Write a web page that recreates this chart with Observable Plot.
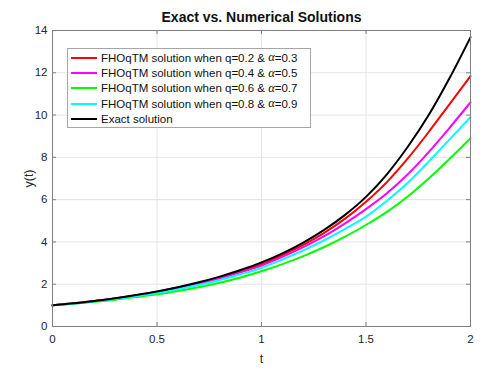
<!DOCTYPE html>
<html>
<head>
<meta charset="utf-8">
<script src="https://cdn.jsdelivr.net/npm/d3@7"></script>
<script src="https://cdn.jsdelivr.net/npm/@observablehq/plot@0.6"></script>
<style>
  html, body { margin: 0; padding: 0; background: white; }
  #wrap { position: relative; width: 490px; height: 371px; font-family: "Liberation Sans", Arial, sans-serif; }
  #legend { position: absolute; left: 67px; top: 48px; width: 242px; height: 77px; border: 1px solid #a6a6a6; background: white; box-sizing: content-box; padding-top: 1px; }
  .row { display: flex; align-items: center; height: 15.4px; font-size: 11.5px; color: #111; white-space: pre; }
  .row span { white-space: pre; }
  .sw { display: inline-block; width: 26px; height: 2px; margin-left: 3px; margin-right: 4px; }
  .al { font-family: "Liberation Serif", "DejaVu Serif", serif; font-style: italic; font-size: 12.5px; }
  svg g[aria-label="x-axis label"] text, svg g[aria-label="y-axis label"] text { font-size: 12.5px; }
</style>
</head>
<body>
<div id="wrap"></div>
<script>
const t = [0,0.1,0.2,0.3,0.4,0.5,0.6,0.7,0.8,0.9,1.0,1.1,1.2,1.3,1.4,1.5,1.6,1.7,1.8,1.9,2.0];
const q02 = [1.00,1.10,1.21,1.33,1.48,1.64,1.84,2.06,2.32,2.62,2.95,3.38,3.86,4.43,5.10,5.90,6.83,7.95,9.20,10.52,11.84];
const q04 = [1.00,1.09,1.20,1.32,1.46,1.62,1.81,2.02,2.27,2.56,2.88,3.29,3.75,4.27,4.88,5.55,6.30,7.20,8.25,9.40,10.60];
const q06 = [1.00,1.08,1.17,1.27,1.39,1.52,1.68,1.86,2.07,2.32,2.61,2.95,3.33,3.76,4.25,4.80,5.42,6.15,7.00,7.93,8.90];
const q08 = [1.00,1.09,1.19,1.30,1.43,1.58,1.76,1.96,2.20,2.47,2.77,3.17,3.60,4.08,4.62,5.20,5.95,6.80,7.80,8.85,9.90];
const exact = [1.00,1.10,1.21,1.34,1.49,1.66,1.86,2.09,2.36,2.67,3.03,3.46,3.97,4.57,5.28,6.13,7.20,8.50,10.00,11.75,13.68];
const names = ["q02","q04","q06","q08","exact"];
const colors = ["#ff0000","#ff00ff","#00ff00","#00ffff","#000000"];
const xTicks = [0,0.5,1,1.5,2];
const yTicks = [0,2,4,6,8,10,12,14];
const xTickLabels = ["0","0.5","1","1.5","2"];
const title = "Exact vs. Numerical Solutions";
const legendLabels = [
  ["FHOqTM solution when q=0.2 & ", "α", "=0.3"],
  ["FHOqTM solution when q=0.4 & ", "α", "=0.5"],
  ["FHOqTM solution when q=0.6 & ", "α", "=0.7"],
  ["FHOqTM solution when q=0.8 & ", "α", "=0.9"],
  ["Exact solution", "", ""]
];

const seriesVals = {q02, q04, q06, q08, exact};
const data = names.flatMap(n => t.map((tv, i) => ({t: tv, y: seriesVals[n][i], name: n})));

const W = 490, H = 371, mL = 52, mR = 20, mT = 30, mB = 45;
const iW = W - mL - mR, iH = H - mT - mB;
const axisCol = "#808080";
const gridCol = "#e4e4e4";

const chart = Plot.plot({
  width: W, height: H,
  marginLeft: mL, marginRight: mR, marginTop: mT, marginBottom: mB,
  style: {fontFamily: "Liberation Sans, Arial, sans-serif", fontSize: "11.5px", color: "#262626", background: "white", overflow: "visible"},
  x: {domain: [0, 2], ticks: xTicks, tickFormat: (d) => xTickLabels[xTicks.indexOf(d)], tickSize: 0, tickPadding: 8, label: "t", labelAnchor: "center", labelOffset: 36, labelArrow: "none"},
  y: {domain: [0, 14], ticks: yTicks, tickSize: 0, tickPadding: 5, label: "y(t)", labelAnchor: "center", labelOffset: 28, labelArrow: "none"},
  color: {type: "ordinal", domain: names, range: colors},
  marks: [
    Plot.ruleX(xTicks, {x: d => d, stroke: gridCol}),
    Plot.ruleY(yTicks, {y: d => d, stroke: gridCol}),
    Plot.line(data, {x: "t", y: "y", z: "name", stroke: "name", strokeWidth: 2, curve: "monotone-x"}),
    Plot.ruleX(xTicks, {x: d => d, insetTop: iH - 4, stroke: axisCol}),
    Plot.ruleX(xTicks, {x: d => d, insetBottom: iH - 4, stroke: axisCol}),
    Plot.ruleY(yTicks, {y: d => d, insetRight: iW - 4, stroke: axisCol}),
    Plot.ruleY(yTicks, {y: d => d, insetLeft: iW - 4, stroke: axisCol}),
    Plot.frame({stroke: axisCol}),
    Plot.text([title], {frameAnchor: "top", dy: -13, fontWeight: "bold", fontSize: 14, fill: "#111", lineAnchor: "middle"})
  ]
});

const wrap = document.getElementById("wrap");
wrap.appendChild(chart);

const legend = document.createElement("div");
legend.id = "legend";
legendLabels.forEach((parts, i) => {
  const row = document.createElement("div");
  row.className = "row";
  const sw = document.createElement("span");
  sw.className = "sw";
  sw.style.background = colors[i];
  row.appendChild(sw);
  const a = document.createElement("span");
  a.textContent = parts[0];
  row.appendChild(a);
  if (parts[1]) {
    const b = document.createElement("span");
    b.className = "al";
    b.textContent = parts[1];
    row.appendChild(b);
    const c = document.createElement("span");
    c.textContent = parts[2];
    row.appendChild(c);
  }
  legend.appendChild(row);
});
wrap.appendChild(legend);
</script>
</body>
</html>
